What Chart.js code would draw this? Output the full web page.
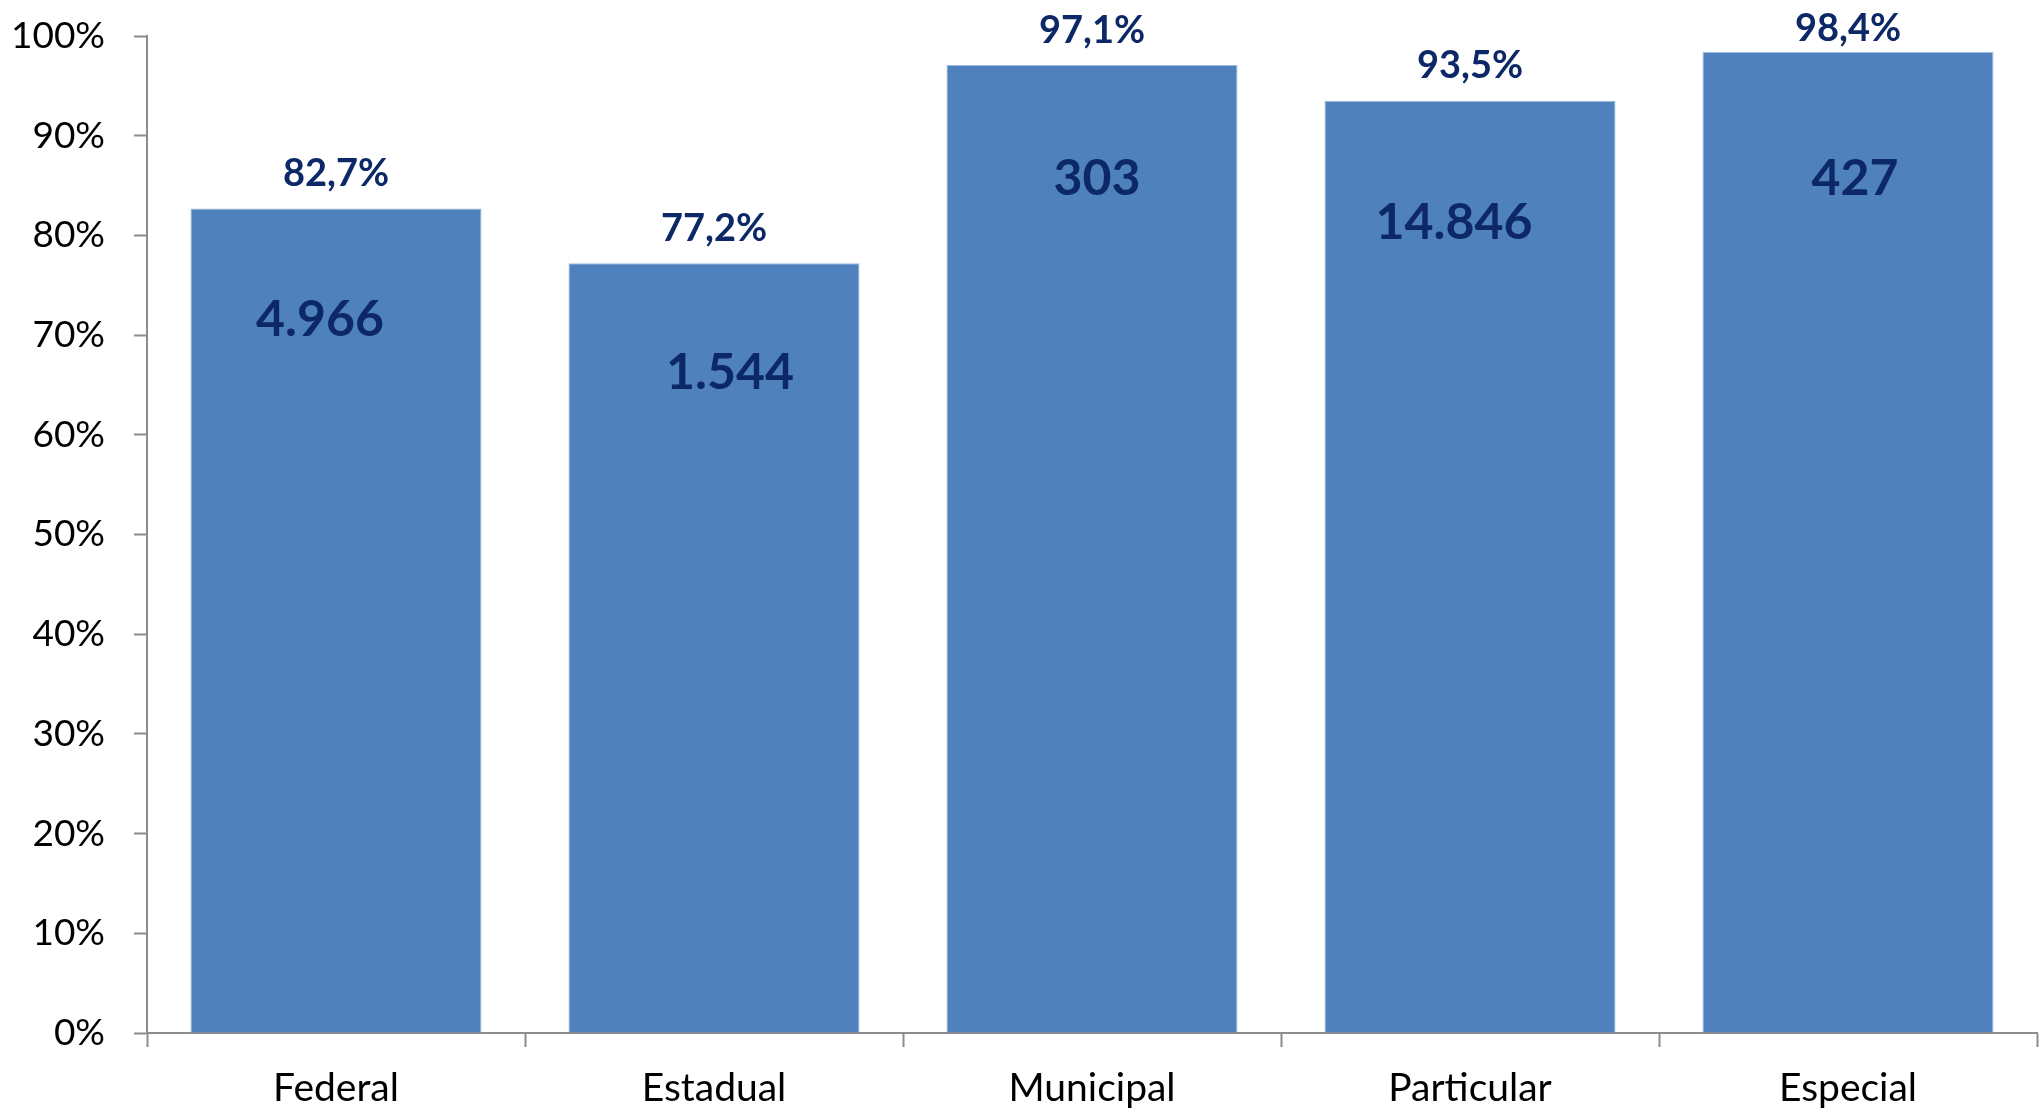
<!DOCTYPE html>
<html lang="pt-BR">
<head>
<meta charset="utf-8">
<title>Percentual por dependência administrativa</title>
<script src="https://cdn.jsdelivr.net/npm/chart.js@4.4.1/dist/chart.umd.min.js"></script>
<style>
  html, body { margin: 0; padding: 0; background: #ffffff; }
  #wrap { position: relative; width: 2040px; height: 1109px; }
</style>
</head>
<body>
<div id="wrap"><canvas id="chart" width="2040" height="1109"></canvas></div>
<script>
// Categorias (dependência administrativa)
const categories = ['Federal', 'Estadual', 'Municipal', 'Particular', 'Especial'];
// Percentual de cada categoria
const percentValues = [82.7, 77.2, 97.1, 93.5, 98.4];
// Quantidade absoluta mostrada dentro de cada barra
const counts = [4966, 1544, 303, 14846, 427];
// Marcas do eixo vertical
const yTicks = [0, 10, 20, 30, 40, 50, 60, 70, 80, 90, 100];

// Ajuste fino (em px) da posição dos números dentro das barras
const countNudge = [
  { dx: -16, dy: 110 },
  { dx: 16,  dy: 108 },
  { dx: 5,   dy: 112 },
  { dx: -16, dy: 120 },
  { dx: 7,   dy: 125 }
];

const FONT = 'Lato, "Open Sans", "DejaVu Sans", sans-serif';
const AXIS_GRAY = '#8c8c8c';
const LABEL_NAVY = '#0c2866';

function fmtThousands(n) {
  return String(n).replace(/\B(?=(\d{3})+(?!\d))/g, '.');
}
function fmtPercent(v) {
  return v.toFixed(1).replace('.', ',') + '%';
}

const barLabels = {
  id: 'barLabels',
  afterDatasetsDraw(chart) {
    const ctx = chart.ctx;
    const meta = chart.getDatasetMeta(0);
    ctx.save();
    ctx.fillStyle = LABEL_NAVY;
    ctx.textAlign = 'center';
    ctx.textBaseline = 'alphabetic';
    meta.data.forEach((bar, i) => {
      // percentual acima da barra (mantido dentro da área visível)
      let size = 38;
      ctx.font = 'bold ' + size + 'px ' + FONT;
      const cy = Math.max(bar.y - 36, 27);
      ctx.fillText(fmtPercent(percentValues[i]), bar.x, cy + size * 0.36);
      // quantidade dentro da barra
      size = 50;
      ctx.font = 'bold ' + size + 'px ' + FONT;
      const n = countNudge[i];
      ctx.fillText(fmtThousands(counts[i]), bar.x + n.dx, bar.y + n.dy + size * 0.36);
    });
    ctx.restore();
  }
};

new Chart(document.getElementById('chart'), {
  type: 'bar',
  data: {
    labels: categories,
    datasets: [{
      data: percentValues,
      backgroundColor: '#4f81bd',
      borderColor: '#9fbbe0',
      borderWidth: { top: 1, right: 1, left: 1, bottom: 0 },
      categoryPercentage: 1.0,
      barPercentage: 0.77
    }]
  },
  options: {
    responsive: false,
    animation: false,
    devicePixelRatio: 1,
    layout: { padding: { top: 36, right: 3, left: 0, bottom: 0 } },
    plugins: {
      legend: { display: false },
      tooltip: { enabled: false }
    },
    scales: {
      x: {
        grid: {
          offset: true,
          drawOnChartArea: false,
          drawTicks: true,
          tickLength: 14,
          tickWidth: 2,
          tickColor: AXIS_GRAY
        },
        border: { display: true, color: AXIS_GRAY, width: 2 },
        ticks: {
          color: '#000000',
          padding: 18,
          font: { family: FONT, size: 39 }
        },
        afterFit(scale) { scale.height = 76; }
      },
      y: {
        min: 0,
        max: 100,
        afterBuildTicks(scale) {
          scale.ticks = yTicks.map(v => ({ value: v }));
        },
        grid: {
          drawOnChartArea: false,
          drawTicks: true,
          tickLength: 13,
          tickWidth: 2,
          tickColor: AXIS_GRAY
        },
        border: { display: true, color: AXIS_GRAY, width: 2 },
        ticks: {
          color: '#000000',
          padding: 29,
          font: { family: FONT, size: 37 },
          callback: v => v + '%'
        },
        afterFit(scale) {
          scale.width = 147;
          // the outer layout padding already leaves room for the end labels
          scale.paddingTop = 0;
          scale.paddingBottom = 0;
        }
      }
    }
  },
  plugins: [barLabels]
});
</script>
</body>
</html>
